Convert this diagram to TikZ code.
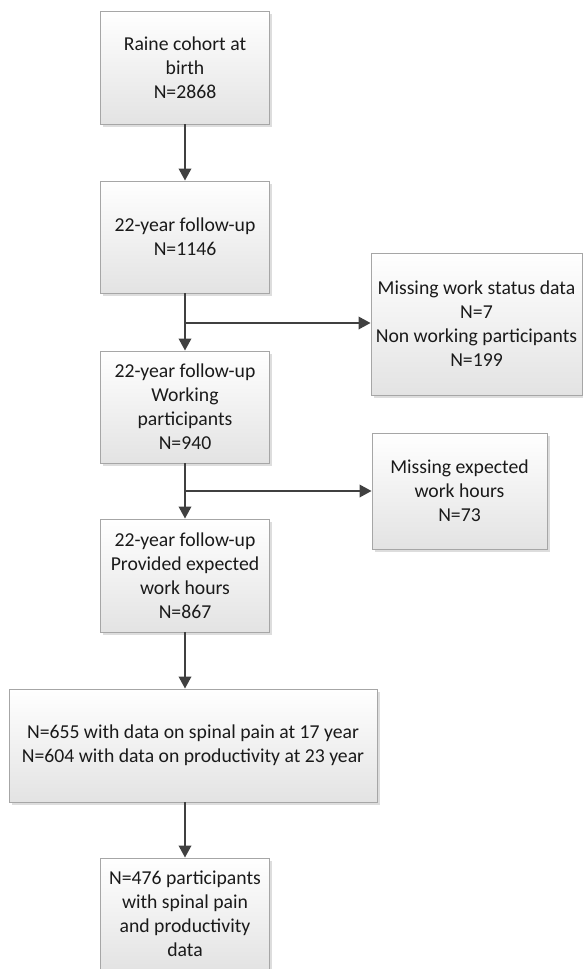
\documentclass[tikz,border=0pt]{standalone}
\usepackage{fontspec}
\setmainfont{Carlito}
\usetikzlibrary{arrows.meta,shadows}
\definecolor{boxline}{HTML}{A6A6A6}
\definecolor{arrowc}{HTML}{404040}
\definecolor{txt}{HTML}{1A1A1A}
\begin{document}
\begin{tikzpicture}[x=1pt,y=-1pt,
  box/.style={draw=boxline, line width=0.9pt, top color=white, bottom color=black!11,
    drop shadow={shadow xshift=2.5pt, shadow yshift=-2.5pt, fill=black!22, opacity=0.6},
    inner sep=0pt, align=center, text=txt,
    font=\fontsize{19.7}{24}\selectfont},
  arr/.style={draw=arrowc, line width=1.9pt, -{Triangle[length=12pt,width=12.5pt]}},
  seg/.style={draw=arrowc, line width=1.9pt}]
\useasboundingbox (0,0) rectangle (583,969);
\node[box, minimum width=169pt, minimum height=113pt] (b1) at (185,67.5) {Raine cohort at\\birth\\N=2868};
\node[box, minimum width=169pt, minimum height=112pt] (b2) at (185,237) {22-year follow-up\\N=1146};
\node[box, minimum width=169pt, minimum height=112pt] (b3) at (185,407) {22-year follow-up\\Working\\participants\\N=940};
\node[box, minimum width=169pt, minimum height=113pt] (b4) at (185,575.5) {22-year follow-up\\Provided expected\\work hours\\N=867};
\node[box, minimum width=368pt, minimum height=113pt] (b5) at (193,745.5) {N=655 with data on spinal pain at 17 year\\N=604 with data on productivity at 23 year};
\node[box, minimum width=169pt, minimum height=112pt] (b6) at (185,914) {N=476 participants\\with spinal pain\\and productivity\\data};
\node[box, minimum width=211pt, minimum height=142pt] (r1) at (476.5,324) {Missing work status data\\N=7\\Non working participants\\N=199};
\node[box, minimum width=175pt, minimum height=116pt] (r2) at (459.5,491) {Missing expected\\work hours\\N=73};
\coordinate (j1) at (185,323);
\coordinate (j2) at (185,491);
\draw[arr] (b1) -- (b2);
\draw[arr] (b2) -- (b3);
\draw[arr] (j1) -- (j1 -| r1.west);
\draw[arr] (b3) -- (b4);
\draw[arr] (j2) -- (j2 -| r2.west);
\draw[arr] (b4.south) -- (b4.south |- b5.north);
\draw[arr] (b6.north |- b5.south) -- (b6.north);
\end{tikzpicture}
\end{document}
